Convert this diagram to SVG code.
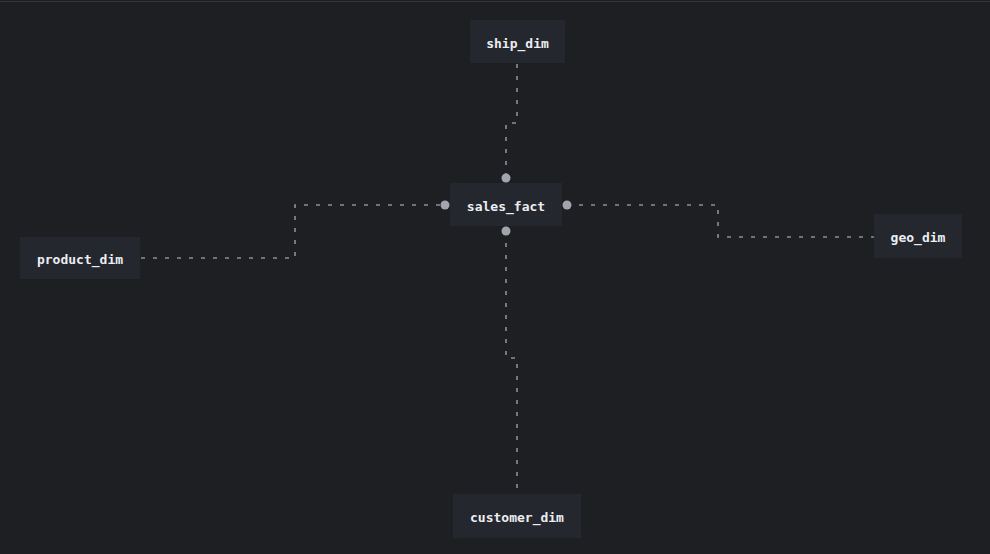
<svg xmlns="http://www.w3.org/2000/svg" width="990" height="554" viewBox="0 0 990 554">
  <style>
    .bg { fill: #1e1f23; }
    .node rect { fill: #25272e; }
    .node text { fill: #eceef2; font-family: "DejaVu Sans Mono", "Liberation Mono", monospace; font-size: 13px; font-weight: bold; text-anchor: middle; dominant-baseline: central; }
    .edge { fill: none; stroke: #8c8f96; stroke-width: 1.6; stroke-dasharray: 4 8; }
    .port { fill: #a2a5ad; }
  </style>
  <rect class="bg" x="0" y="0" width="990" height="554"/>
  <line x1="0" y1="1.5" x2="990" y2="1.5" stroke="#34363c" stroke-width="1"/>

  <g id="connectors">
    <path class="edge" d="M517 64 V123 H506 V177"/>
    <path class="edge" d="M141 258 H295 V205 H445"/>
    <path class="edge" d="M567 205 H718 V237 H874"/>
    <path class="edge" d="M506 231 V358 H517 V494"/>
    <circle class="port" cx="506" cy="178" r="4.5"/>
    <circle class="port" cx="445" cy="205" r="4.5"/>
    <circle class="port" cx="567" cy="205" r="4.5"/>
    <circle class="port" cx="506" cy="231" r="4.5"/>
  </g>

  <g id="ship_dim" class="node">
    <rect x="470" y="20" width="95" height="43"/>
    <text x="517.5" y="43">ship_dim</text>
  </g>
  <g id="sales_fact" class="node">
    <rect x="450" y="183" width="112" height="43"/>
    <text x="506" y="206">sales_fact</text>
  </g>
  <g id="product_dim" class="node">
    <rect x="20" y="237" width="120" height="42"/>
    <text x="80" y="259">product_dim</text>
  </g>
  <g id="geo_dim" class="node">
    <rect x="874" y="214" width="88" height="44"/>
    <text x="918" y="237">geo_dim</text>
  </g>
  <g id="customer_dim" class="node">
    <rect x="453" y="494" width="128" height="44"/>
    <text x="517" y="517">customer_dim</text>
  </g>
</svg>
